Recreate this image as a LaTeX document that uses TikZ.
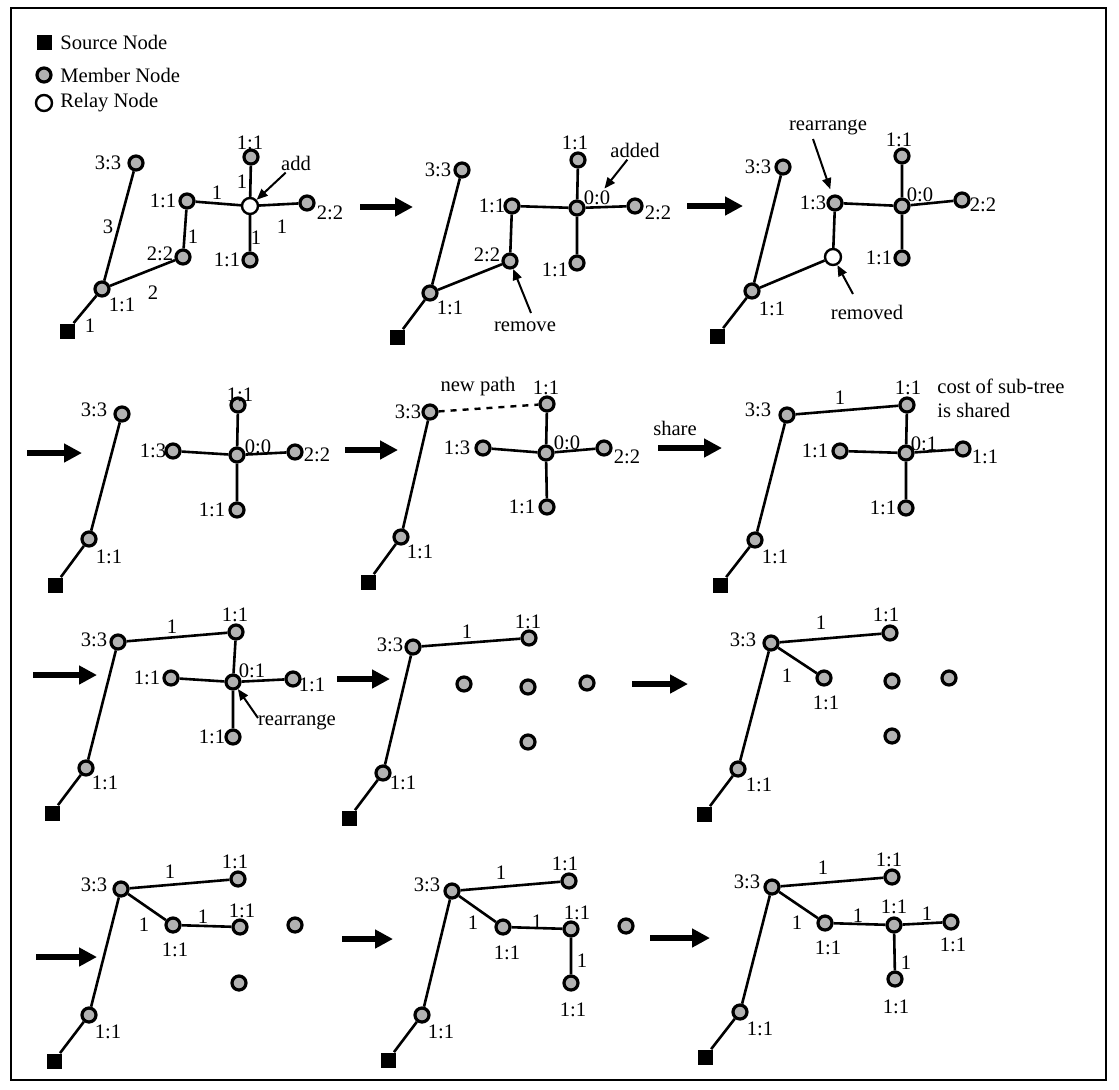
\documentclass[tikz,border=0pt]{standalone}
\usepackage{fontspec}
\setmainfont{Liberation Serif}
\usetikzlibrary{arrows.meta}

\begin{document}
\begin{tikzpicture}[x=0.5pt, y=-0.5pt,
        member/.style={circle, draw, line width=1.6pt, fill=gray!60, minimum size=7pt, inner sep=0pt},
        relay/.style={circle, draw, line width=1.2pt, fill=white, minimum size=8pt, inner sep=0pt},
        source/.style={rectangle, fill=black, minimum size=7.5pt, inner sep=0pt},
        tag/.style={inner sep=1pt, font=\fontsize{10.3}{12}\selectfont},
        edge/.style={line width=1.3pt},
        newpath/.style={line width=1.2pt, dashed},
        stage/.style={-{Triangle[length=9pt,width=9pt]}, line width=2.6pt},
        note/.style={-{Triangle[length=5.5pt,width=4.5pt]}, line width=1pt}
      ]
      \useasboundingbox (0,0) rectangle (1119,1089);
      \draw[line width=1.1pt] (11,8) rectangle (1106,1080);

      % legend
      \node[source] (legsrc) at (44,42) {}; \node[tag, anchor=west] (legsrcl) at (58,42) {Source Node};
      \node[member] (legmem) at (44,75) {}; \node[tag, anchor=west] (legmeml) at (58,75) {Member Node};
      \node[relay] (legrel) at (44,103) {}; \node[tag, anchor=west] (legrell) at (58,103) {Relay Node};

      % panel 1
      \node[source] (p1src) at (67,331) {};
      \node[member] (p1a) at (102,289) {}; \node[tag] (p1al) at (122,305) {1:1};
      \node[member] (p1t) at (136,163) {}; \node[tag] (p1tl) at (108,163) {3:3};
      \node[member] (p1b) at (183,257) {}; \node[tag] (p1bl) at (160,254) {2:2};
      \node[member] (p1c) at (187,201) {}; \node[tag] (p1cl) at (163,201) {1:1};
      \node[relay] (p1r) at (250,206) {};
      \node[member] (p1n) at (251,157) {}; \node[tag] (p1nl) at (250,143) {1:1};
      \node[member] (p1e) at (307,203) {}; \node[tag] (p1el) at (330,213) {2:2};
      \node[member] (p1s) at (250,260) {}; \node[tag] (p1sl) at (227,260) {1:1};
      \draw[edge] (p1src) -- (p1a) (p1a) -- (p1t) (p1a) -- (p1b) (p1b) -- (p1c) (p1c) -- (p1r)
        (p1r) -- (p1n) (p1r) -- (p1e) (p1r) -- (p1s);
      \node[tag] (p1w1) at (90,326) {1};
      \node[tag] (p1w2) at (108,227) {3};
      \node[tag] (p1w3) at (153,293) {2};
      \node[tag] (p1w4) at (193,237) {1};
      \node[tag] (p1w5) at (217,193) {1};
      \node[tag] (p1w6) at (242,182) {1};
      \node[tag] (p1w7) at (282,227) {1};
      \node[tag] (p1w8) at (256,238) {1};
      \node[tag] (p1add) at (296,163) {add};
      \draw[note] (p1add) -- (p1r);

      \coordinate (st1a) at (360,207); \coordinate (st1b) at (413,207);
      \draw[stage] (st1a) -- (st1b);

      % panel 2
      \node[source] (p2src) at (397,337) {};
      \node[member] (p2a) at (430,293) {}; \node[tag] (p2al) at (450,308) {1:1};
      \node[member] (p2t) at (462,170) {}; \node[tag] (p2tl) at (438,170) {3:3};
      \node[member] (p2b) at (510,261) {}; \node[tag] (p2bl) at (487,255) {2:2};
      \node[member] (p2c) at (512,206) {}; \node[tag] (p2cl) at (492,206) {1:1};
      \node[member] (p2m) at (577,208) {}; \node[tag] (p2ml) at (597,198) {0:0};
      \node[member] (p2n) at (578,160) {}; \node[tag] (p2nl) at (575,143) {1:1};
      \node[member] (p2e) at (635,206) {}; \node[tag] (p2el) at (658,213) {2:2};
      \node[member] (p2s) at (577,263) {}; \node[tag] (p2sl) at (555,270) {1:1};
      \draw[edge] (p2src) -- (p2a) (p2a) -- (p2t) (p2a) -- (p2b) (p2b) -- (p2c) (p2c) -- (p2m)
        (p2m) -- (p2n) (p2m) -- (p2e) (p2m) -- (p2s);
      \node[tag] (p2added) at (635,150) {added};
      \draw[note] (p2added) -- (p2ml);
      \node[tag] (p2remove) at (525,327) {remove};
      \coordinate (p2rm) at (531,313);
      \draw[note] (p2rm) -- (p2b);

      \coordinate (st2a) at (687,206); \coordinate (st2b) at (743,206);
      \draw[stage] (st2a) -- (st2b);

      % panel 3
      \node[source] (p3src) at (717,336) {};
      \node[member] (p3a) at (752,291) {}; \node[tag] (p3al) at (772,309) {1:1};
      \node[member] (p3t) at (783,167) {}; \node[tag] (p3tl) at (758,167) {3:3};
      \node[member] (p3c) at (835,203) {}; \node[tag] (p3cl) at (813,203) {1:3};
      \node[relay] (p3r) at (833,257) {};
      \node[member] (p3m) at (902,206) {}; \node[tag] (p3ml) at (920,195) {0:0};
      \node[member] (p3n) at (902,156) {}; \node[tag] (p3nl) at (899,140) {1:1};
      \node[member] (p3e) at (962,200) {}; \node[tag] (p3el) at (983,205) {2:2};
      \node[member] (p3s) at (902,258) {}; \node[tag] (p3sl) at (879,258) {1:1};
      \draw[edge] (p3src) -- (p3a) (p3a) -- (p3t) (p3a) -- (p3r) (p3r) -- (p3c) (p3c) -- (p3m)
        (p3m) -- (p3n) (p3m) -- (p3e) (p3m) -- (p3s);
      \node[tag] (p3rearr) at (828,127) {rearrange};
      \coordinate (p3ra) at (813,139);
      \draw[note, shorten >=3pt] (p3ra) -- (p3c);
      \node[tag] (p3removed) at (867,312) {removed};
      \coordinate (p3rm) at (853,294);
      \draw[note] (p3rm) -- (p3r);

      % panel 4
      \coordinate (st3a) at (27,453); \coordinate (st3b) at (82,453);
      \draw[stage] (st3a) -- (st3b);
      \node[source] (p4src) at (55,585) {};
      \node[member] (p4a) at (89,539) {}; \node[tag] (p4al) at (109,557) {1:1};
      \node[member] (p4t) at (122,414) {}; \node[tag] (p4tl) at (94,410) {3:3};
      \node[member] (p4c) at (173,451) {}; \node[tag] (p4cl) at (153,451) {1:3};
      \node[member] (p4m) at (237,455) {}; \node[tag] (p4ml) at (258,447) {0:0};
      \node[member] (p4n) at (238,405) {}; \node[tag] (p4nl) at (240,395) {1:1};
      \node[member] (p4e) at (295,452) {}; \node[tag] (p4el) at (317,455) {2:2};
      \node[member] (p4s) at (237,510) {}; \node[tag] (p4sl) at (212,510) {1:1};
      \draw[edge] (p4src) -- (p4a) (p4a) -- (p4t) (p4c) -- (p4m)
        (p4m) -- (p4n) (p4m) -- (p4e) (p4m) -- (p4s);

      % panel 5
      \coordinate (st4a) at (345,450); \coordinate (st4b) at (398,450);
      \draw[stage] (st4a) -- (st4b);
      \node[source] (p5src) at (368,582) {};
      \node[member] (p5a) at (401,537) {}; \node[tag] (p5al) at (420,552) {1:1};
      \node[member] (p5t) at (430,412) {}; \node[tag] (p5tl) at (408,412) {3:3};
      \node[member] (p5c) at (483,448) {}; \node[tag] (p5cl) at (457,448) {1:3};
      \node[member] (p5m) at (546,453) {}; \node[tag] (p5ml) at (567,443) {0:0};
      \node[member] (p5n) at (547,404) {}; \node[tag] (p5nl) at (546,388) {1:1};
      \node[member] (p5e) at (604,448) {}; \node[tag] (p5el) at (627,457) {2:2};
      \node[member] (p5s) at (547,507) {}; \node[tag] (p5sl) at (522,507) {1:1};
      \draw[edge] (p5src) -- (p5a) (p5a) -- (p5t) (p5c) -- (p5m)
        (p5m) -- (p5n) (p5m) -- (p5e) (p5m) -- (p5s);
      \draw[newpath] (p5t) -- (p5n);
      \node[tag] (p5newp) at (478,387) {new path};

      \coordinate (st5a) at (658,448); \coordinate (st5b) at (722,448);
      \draw[stage] (st5a) -- (st5b);
      \node[tag] (p5share) at (675,428) {share};

      % panel 6
      \node[source] (p6src) at (720,585) {};
      \node[member] (p6a) at (755,540) {}; \node[tag] (p6al) at (775,557) {1:1};
      \node[member] (p6t) at (787,415) {}; \node[tag] (p6tl) at (758,410) {3:3};
      \node[member] (p6n) at (907,405) {}; \node[tag] (p6nl) at (908,388) {1:1};
      \node[member] (p6c) at (840,451) {}; \node[tag] (p6cl) at (815,451) {1:1};
      \node[member] (p6m) at (906,453) {}; \node[tag] (p6ml) at (924,444) {0:1};
      \node[member] (p6e) at (963,449) {}; \node[tag] (p6el) at (985,457) {1:1};
      \node[member] (p6s) at (906,508) {}; \node[tag] (p6sl) at (883,508) {1:1};
      \draw[edge] (p6src) -- (p6a) (p6a) -- (p6t) (p6t) -- (p6n) (p6c) -- (p6m)
        (p6m) -- (p6n) (p6m) -- (p6e) (p6m) -- (p6s);
      \node[tag] (p6w1) at (840,398) {1};
      \node[tag, anchor=west, align=left] (p6cost) at (935,398) {cost of sub-tree\\is shared};

      % panel 7
      \coordinate (st6a) at (33,675); \coordinate (st6b) at (97,675);
      \draw[stage] (st6a) -- (st6b);
      \node[source] (p7src) at (52,813) {};
      \node[member] (p7a) at (86,768) {}; \node[tag] (p7al) at (105,783) {1:1};
      \node[member] (p7t) at (118,642) {}; \node[tag] (p7tl) at (94,640) {3:3};
      \node[member] (p7n) at (236,632) {}; \node[tag] (p7nl) at (235,615) {1:1};
      \node[member] (p7c) at (171,678) {}; \node[tag] (p7cl) at (147,678) {1:1};
      \node[member] (p7m) at (233,682) {}; \node[tag] (p7ml) at (252,671) {0:1};
      \node[member] (p7e) at (293,679) {}; \node[tag] (p7el) at (312,685) {1:1};
      \node[member] (p7s) at (233,737) {}; \node[tag] (p7sl) at (212,737) {1:1};
      \draw[edge] (p7src) -- (p7a) (p7a) -- (p7t) (p7t) -- (p7n) (p7c) -- (p7m)
        (p7m) -- (p7n) (p7m) -- (p7e) (p7m) -- (p7s);
      \node[tag] (p7w1) at (172,627) {1};
      \node[tag] (p7rearr) at (297,722) {rearrange};
      \coordinate (p7ra) at (258,718);
      \draw[note] (p7ra) -- (p7m);

      % panel 8
      \coordinate (st7a) at (337,679); \coordinate (st7b) at (390,679);
      \draw[stage] (st7a) -- (st7b);
      \node[source] (p8src) at (349,818) {};
      \node[member] (p8a) at (383,773) {}; \node[tag] (p8al) at (403,783) {1:1};
      \node[member] (p8t) at (413,647) {}; \node[tag] (p8tl) at (390,645) {3:3};
      \node[member] (p8n) at (529,638) {}; \node[tag] (p8nl) at (528,622) {1:1};
      \node[member] (p8d1) at (464,684) {};
      \node[member] (p8d2) at (528,687) {};
      \node[member] (p8d3) at (587,683) {};
      \node[member] (p8d4) at (528,742) {};
      \draw[edge] (p8src) -- (p8a) (p8a) -- (p8t) (p8t) -- (p8n);
      \node[tag] (p8w1) at (467,632) {1};

      % panel 9
      \coordinate (st8a) at (632,684); \coordinate (st8b) at (688,684);
      \draw[stage] (st8a) -- (st8b);
      \node[source] (p9src) at (704,814) {};
      \node[member] (p9a) at (738,769) {}; \node[tag] (p9al) at (759,785) {1:1};
      \node[member] (p9t) at (771,643) {}; \node[tag] (p9tl) at (743,640) {3:3};
      \node[member] (p9n) at (890,633) {}; \node[tag] (p9nl) at (886,615) {1:1};
      \node[member] (p9b) at (824,678) {}; \node[tag] (p9bl) at (826,703) {1:1};
      \node[member] (p9d1) at (892,681) {};
      \node[member] (p9d2) at (949,678) {};
      \node[member] (p9d3) at (892,736) {};
      \draw[edge] (p9src) -- (p9a) (p9a) -- (p9t) (p9t) -- (p9n) (p9t) -- (p9b);
      \node[tag] (p9w1) at (821,623) {1};
      \node[tag] (p9w2) at (787,676) {1};

      % panel 10
      \coordinate (st9a) at (36,957); \coordinate (st9b) at (97,957);
      \draw[stage] (st9a) -- (st9b);
      \node[source] (p10src) at (54,1061) {};
      \node[member] (p10a) at (89,1015) {}; \node[tag] (p10al) at (108,1032) {1:1};
      \node[member] (p10t) at (121,889) {}; \node[tag] (p10tl) at (94,885) {3:3};
      \node[member] (p10n) at (238,879) {}; \node[tag] (p10nl) at (235,862) {1:1};
      \node[member] (p10b) at (173,925) {}; \node[tag] (p10bl) at (175,950) {1:1};
      \node[member] (p10c) at (240,927) {}; \node[tag] (p10cl) at (242,911) {1:1};
      \node[member] (p10d1) at (295,925) {};
      \node[member] (p10d2) at (239,983) {};
      \draw[edge] (p10src) -- (p10a) (p10a) -- (p10t) (p10t) -- (p10n) (p10t) -- (p10b) (p10b) -- (p10c);
      \node[tag] (p10w1) at (170,872) {1};
      \node[tag] (p10w2) at (144,925) {1};
      \node[tag] (p10w3) at (203,917) {1};

      % panel 11
      \coordinate (st10a) at (342,939); \coordinate (st10b) at (393,939);
      \draw[stage] (st10a) -- (st10b);
      \node[source] (p11src) at (388,1060) {};
      \node[member] (p11a) at (422,1015) {}; \node[tag] (p11al) at (441,1032) {1:1};
      \node[member] (p11t) at (452,891) {}; \node[tag] (p11tl) at (427,885) {3:3};
      \node[member] (p11n) at (569,881) {}; \node[tag] (p11nl) at (565,864) {1:1};
      \node[member] (p11b) at (503,927) {}; \node[tag] (p11bl) at (507,953) {1:1};
      \node[member] (p11c) at (571,929) {}; \node[tag] (p11cl) at (577,913) {1:1};
      \node[member] (p11d) at (571,983) {}; \node[tag] (p11dl) at (573,1010) {1:1};
      \node[member] (p11d1) at (626,926) {};
      \draw[edge] (p11src) -- (p11a) (p11a) -- (p11t) (p11t) -- (p11n) (p11t) -- (p11b) (p11b) -- (p11c)
        (p11c) -- (p11d);
      \node[tag] (p11w1) at (501,873) {1};
      \node[tag] (p11w2) at (473,923) {1};
      \node[tag] (p11w3) at (537,922) {1};
      \node[tag] (p11w4) at (582,961) {1};

      % panel 12
      \coordinate (st11a) at (650,938); \coordinate (st11b) at (710,938);
      \draw[stage] (st11a) -- (st11b);
      \node[source] (p12src) at (705,1057) {};
      \node[member] (p12a) at (740,1012) {}; \node[tag] (p12al) at (760,1029) {1:1};
      \node[member] (p12t) at (772,887) {}; \node[tag] (p12tl) at (747,882) {3:3};
      \node[member] (p12n) at (892,877) {}; \node[tag] (p12nl) at (889,860) {1:1};
      \node[member] (p12b) at (825,923) {}; \node[tag] (p12bl) at (828,948) {1:1};
      \node[member] (p12c) at (894,925) {}; \node[tag] (p12cl) at (894,907) {1:1};
      \node[member] (p12d) at (951,922) {}; \node[tag] (p12dl) at (953,945) {1:1};
      \node[member] (p12e) at (895,979) {}; \node[tag] (p12el) at (896,1007) {1:1};
      \draw[edge] (p12src) -- (p12a) (p12a) -- (p12t) (p12t) -- (p12n) (p12t) -- (p12b) (p12b) -- (p12c)
        (p12c) -- (p12d) (p12c) -- (p12e);
      \node[tag] (p12w1) at (823,868) {1};
      \node[tag] (p12w2) at (797,923) {1};
      \node[tag] (p12w3) at (858,916) {1};
      \node[tag] (p12w4) at (927,914) {1};
      \node[tag] (p12w5) at (906,963) {1};
    \end{tikzpicture}
\end{document}
